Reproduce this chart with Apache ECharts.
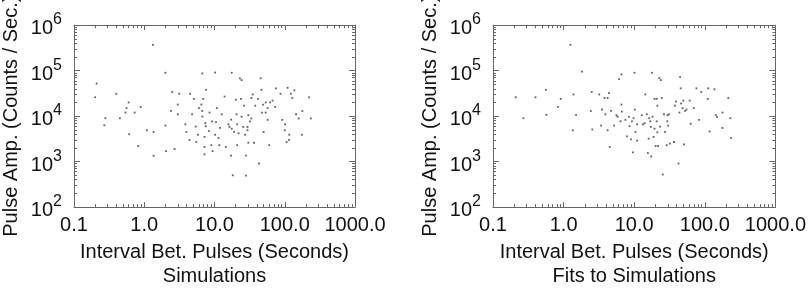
<!DOCTYPE html>
<html>
<head>
<meta charset="utf-8">
<script src="https://cdn.jsdelivr.net/npm/echarts@6/dist/echarts.min.js"></script>
<style>html,body{margin:0;padding:0;background:#fff}#c{width:809px;height:293px}</style>
</head>
<body>
<div id="c"></div>
<script>
const xTickLabels = ['0.1', '1.0', '10.0', '100.0', '1000.0'];
const yTickExponents = ['2', '3', '4', '5', '6'];
const xTitle = 'Interval Bet. Pulses (Seconds)';
const yTitle = 'Pulse Amp. (Counts / Sec.)';
const panelTitles = ['Simulations', 'Fits to Simulations'];

const simPoints = [[1.33,3.7e5],[0.21,5.2e4],[0.20,2.6e4],[0.40,3.1e4],[0.28,9.0e3],[0.27,6.3e3],[0.45,9e3],[0.60,2e4],[0.56,1.5e4],[0.54,1.2e4],[0.73,1.2e4],[0.89,1.6e4],[0.61,4.0e3],[0.82,2.2e3],[1.09,4.9e3],[1.36,4.5e3],[1.36,1.35e3],[2.0,9e4],[2.0,6.2e3],[2.04,1.7e3],[2.4,1.3e4],[2.5,3.4e4],[2.7,1.9e3],[3.0,1.8e4],[3.0,1.1e4],[3.15,3.1e4],[3.85,6.6e3],[3.97,4.5e3],[4.5,3.1e4],[4.4,3e3],[4.8,1.1e4],[5.1,2.4e4],[5.4,5.9e3],[5.5,2.7e3],[5.8,3.9e3],[6.0,1.5e4],[6.7,8.7e4],[6.7,9.8e3],[6.9,2.4e4],[6.5,1.8e4],[7.4,7e3],[7.6,3.8e4],[7.2,3.5e3],[7.2,2.1e3],[7.2,1.45e3],[8.3,4.7e3],[8.5,1.2e4],[9.0,2.3e3],[9.2,7.7e3],[9.4,1.7e3],[10.2,9.1e4],[10.2,3.9e3],[10.5,7.4e3],[10.8,1.5e4],[11.4,3.3e3],[11.7,2.3e3],[12.7,1.1e4],[13.9,2.7e4],[14.5,2.1e3],[15.8,6.6e3],[16.3,5.8e3],[17.2,8.4e3],[17.6,9e4],[17.2,1.35e3],[18.2,500],[19.0,4.5e3],[20.1,2.3e4],[20.6,1.1e4],[21,6.6e3],[21,2.3e3],[22,4.2e3],[23,6.8e4],[23.8,2.4e4],[24.3,6.2e4],[24.3,9.7e3],[25.7,5.8e3],[26.4,1.7e4],[27.3,3.9e3],[28,1.35e3],[28,490],[29.5,5.8e3],[29.5,4.9e3],[30.3,1.05e4],[30.3,2.6e3],[32,7.7e3],[33.5,8.9e3],[33.5,2.5e4],[35,3.0e4],[36.5,2.6e3],[38,1.7e4],[41.6,2.4e4],[42.9,910],[45.4,6.8e4],[46.5,3.8e4],[47.5,1.2e4],[49,1.8e4],[50,4.5e3],[53.5,2e4],[53.5,1.2e4],[57,1.5e4],[60,2.3e3],[57,8.3e3],[62,2.0e4],[67,2.2e4],[73,1.6e4],[75,4.1e4],[87,3.1e4],[92,8.3e3],[100,4.9e3],[101,6.6e3],[106,2.7e3],[110,4.2e4],[116,3.9e3],[115,3.0e3],[122,3.1e4],[128,2.5e4],[137,3.7e4],[145,1.1e4],[158,8.9e3],[175,3.9e3],[178,1.3e4],[222,2.6e4],[235,8.9e3],[6.7,1.3e4],[7.5,6e3],[12,5.5e3],[17.6,5.3e3]];

const fitPoints = [[1.25,3.7e5],[0.21,2.6e4],[0.27,9e3],[0.40,2.6e4],[0.56,3.8e4],[0.57,1.07e4],[0.83,1.6e4],[0.91,2.4e4],[1.38,3.0e4],[1.35,4.9e3],[1.5,1.07e4],[1.82,9.5e4],[2.43,1.3e4],[2.5,3.4e4],[2.55,5.1e3],[3.2,3.0e4],[3.4,6.2e3],[3.5,1.4e4],[3.8,2.5e4],[3.9,1.1e4],[4.2,4.9e3],[4.2,2.5e4],[4.4,3.2e4],[4.5,2.1e3],[4.7,1.3e4],[5.2,6.2e3],[5.6,1.05e4],[5.8,9.7e3],[6.1,6.5e4],[6.4,7.7e3],[6.6,8.3e4],[6.6,1.8e4],[6.7,1.26e4],[7.5,8.3e3],[7.9,3.6e3],[8.4,9.7e3],[8.6,6e3],[9.0,3.1e3],[9.3,7.7e3],[9.6,1.6e3],[9.8,9e3],[10.1,9e4],[10.2,1.4e4],[10.4,4.5e3],[11,6.6e3],[11,2.9e3],[12.8,1.05e4],[13.3,6.6e3],[14,7.0e3],[14.4,3.0e4],[15.1,1.1e4],[15.6,1.55e3],[16,3.2e3],[16.3,9e3],[16.9,7.7e3],[17.2,5.8e3],[17.4,1.3e3],[17.8,9e4],[18.2,9.7e3],[18.8,3.5e3],[19.4,2.4e4],[19.4,5.3e3],[20.1,2.2e3],[20.8,2.4e4],[20.8,7.7e3],[21.3,1.7e4],[21.3,4.4e3],[21.8,2.2e3],[22.7,6.9e4],[23.3,5.9e3],[23.8,6.2e4],[24.6,2.5e4],[25.4,520],[26.4,1.1e4],[27.3,4.5e3],[28.8,2.3e3],[29.4,7.7e3],[29.6,1.05e4],[30.3,6.2e3],[31,1.1e4],[32,2.5e3],[36.6,2.7e3],[37.7,1.7e4],[38.9,2.1e4],[42.4,910],[43.7,1.2e4],[44.6,7.2e4],[45.5,4.1e4],[46.2,1.9e4],[48.6,1.5e4],[49.7,2.2e4],[50.8,2.4e3],[52.5,1.3e4],[55,1.4e4],[61,2.2e4],[63,6.8e3],[70,1.5e4],[76,4.1e4],[83,8.3e3],[89,3.4e4],[110,2.4e4],[112,4.1e4],[117,4.6e3],[137,3.9e4],[143,1.05e4],[149,9.5e3],[178,1.2e4],[178,5.5e3],[215,2.5e4],[230,9e3],[235,3.3e3]];

const FONT = '"Liberation Sans", Arial, Helvetica, sans-serif';
const AX = '#666';
const TXT = '#111';

function xAxes(gi, title) {
  return [{
    type: 'log', logBase: 10, gridIndex: gi, position: 'bottom', min: 0.1, max: 1000,
    axisLine: { show: true, lineStyle: { color: AX, width: 1 } },
    axisTick: { show: true, inside: true, length: 5, lineStyle: { color: AX } },
    minorTick: { show: true, splitNumber: 9, length: 3, lineStyle: { color: AX } },
    splitLine: { show: false }, minorSplitLine: { show: false },
    axisLabel: {
      color: TXT, fontFamily: FONT, fontSize: 20, margin: 8,
      formatter: v => xTickLabels[Math.round(Math.log10(v)) + 1]
    },
    name: xTitle + '\n' + title, nameLocation: 'middle', nameGap: 31,
    nameTextStyle: { color: TXT, fontFamily: FONT, fontSize: 20, lineHeight: 24, verticalAlign: 'top' }
  }, {
    type: 'log', logBase: 10, gridIndex: gi, position: 'top', min: 0.1, max: 1000,
    axisLine: { show: true, lineStyle: { color: AX, width: 1 } },
    axisTick: { show: true, inside: true, length: 5, lineStyle: { color: AX } },
    minorTick: { show: true, splitNumber: 9, length: 3, lineStyle: { color: AX } },
    splitLine: { show: false }, axisLabel: { show: false }
  }];
}
function yAxes(gi) {
  return [{
    type: 'log', logBase: 10, gridIndex: gi, position: 'left', min: 100, max: 1e6,
    axisLine: { show: true, lineStyle: { color: AX, width: 1 } },
    axisTick: { show: true, inside: true, length: 6, lineStyle: { color: AX } },
    minorTick: { show: true, splitNumber: 9, length: 3, lineStyle: { color: AX } },
    splitLine: { show: false }, minorSplitLine: { show: false },
    axisLabel: {
      margin: 12, fontFamily: FONT,
      formatter: v => '{b|10}{s|' + yTickExponents[Math.round(Math.log10(v)) - 2] + '}',
      rich: {
        b: { fontSize: 20, color: TXT, fontFamily: FONT, verticalAlign: 'bottom', lineHeight: 27 },
        s: { fontSize: 16, color: TXT, fontFamily: FONT, verticalAlign: 'top', lineHeight: 27 }
      }
    },
    name: yTitle, nameLocation: 'middle', nameGap: 53,
    nameTextStyle: { color: TXT, fontFamily: FONT, fontSize: 20 }
  }, {
    type: 'log', logBase: 10, gridIndex: gi, position: 'right', min: 100, max: 1e6,
    axisLine: { show: true, lineStyle: { color: AX, width: 1 } },
    axisTick: { show: true, inside: true, length: 6, lineStyle: { color: AX } },
    minorTick: { show: true, splitNumber: 9, length: 3, lineStyle: { color: AX } },
    splitLine: { show: false }, axisLabel: { show: false }
  }];
}

const chart = echarts.init(document.getElementById('c'), null, { renderer: 'canvas' });
chart.setOption({
  animation: false,
  backgroundColor: '#fff',
  grid: [
    { left: 70, right: 454, top: 18, bottom: 73 },
    { left: 493, right: 31, top: 18, bottom: 73 }
  ],
  xAxis: [...xAxes(0, panelTitles[0]), ...xAxes(1, panelTitles[1])],
  yAxis: [...yAxes(0), ...yAxes(1)],
  series: [
    { type: 'scatter', xAxisIndex: 0, yAxisIndex: 0, data: simPoints, symbol: 'rect', symbolSize: 1.8, itemStyle: { color: '#3a3a3a' } },
    { type: 'scatter', xAxisIndex: 2, yAxisIndex: 2, data: fitPoints, symbol: 'rect', symbolSize: 1.8, itemStyle: { color: '#3a3a3a' } }
  ]
});
</script>
</body>
</html>
